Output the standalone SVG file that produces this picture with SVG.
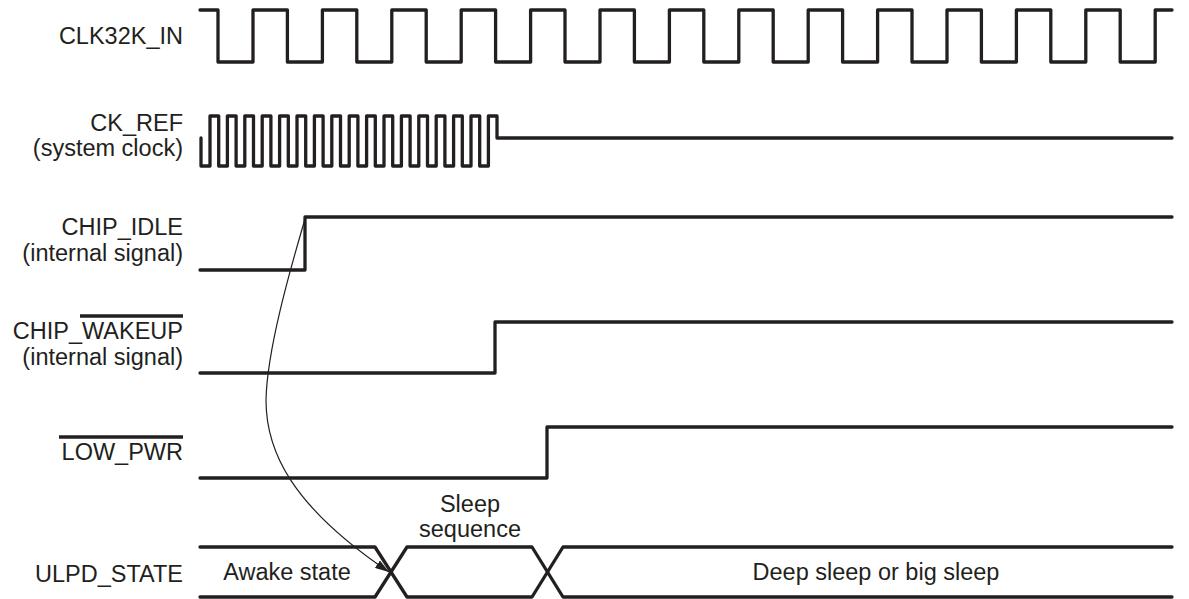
<svg xmlns="http://www.w3.org/2000/svg" width="1189" height="599" viewBox="0 0 1189 599">
<style>
.lbl{font-family:"Liberation Sans",Arial,sans-serif;font-size:23.5px;fill:#231f20;text-anchor:end}
.mid{font-family:"Liberation Sans",Arial,sans-serif;font-size:23.5px;fill:#231f20;text-anchor:middle}
.wave{fill:none;stroke:#231f20;stroke-width:3.3;stroke-linejoin:round;stroke-linecap:round}
.bar{stroke:#231f20;stroke-width:3.5}
.conn{fill:none;stroke:#231f20;stroke-width:1.2}
</style>
<defs>
<marker id="arr" viewBox="0 0 14 9" refX="14" refY="4.5" markerWidth="14" markerHeight="9" markerUnits="userSpaceOnUse" orient="auto">
<path d="M0,0 L14,4.5 L0,9 z" fill="#231f20"/>
</marker>
</defs>
<rect width="1189" height="599" fill="#ffffff"/>
<g id="clk32k">
<text class="lbl" x="183" y="44">CLK32K_IN</text>
<path class="wave" d="M200,10 H218 V62 H253 V10 H287.4 V62 H322.4 V10 H356.8 V62 H391.8 V10 H426.2 V62 H461.2 V10 H495.6 V62 H530.6 V10 H565 V62 H600 V10 H634.4 V62 H669.4 V10 H703.8 V62 H738.8 V10 H773.2 V62 H808.2 V10 H842.6 V62 H877.6 V10 H912 V62 H947 V10 H981.4 V62 H1016.4 V10 H1050.8 V62 H1085.8 V10 H1120.2 V62 H1155.2 V10 H1172"/>
</g>
<g id="ckref">
<text class="lbl" x="183" y="131">CK_REF</text>
<text class="lbl" x="183" y="156">(system clock)</text>
<path class="wave" d="M201,138 V166 H210 V116 H218.7 V166 H227.4 V116 H236.1 V166 H244.8 V116 H253.5 V166 H262.2 V116 H270.9 V166 H279.6 V116 H288.3 V166 H297 V116 H305.7 V166 H314.4 V116 H323.1 V166 H331.8 V116 H340.5 V166 H349.2 V116 H357.9 V166 H366.6 V116 H375.3 V166 H384 V116 H392.7 V166 H401.4 V116 H410.1 V166 H418.8 V116 H427.5 V166 H436.2 V116 H444.9 V166 H453.6 V116 H462.3 V166 H471 V116 H479.7 V166 H488.4 V116 H497 V138 H1172"/>
</g>
<g id="chip_idle">
<text class="lbl" x="183" y="235">CHIP_IDLE</text>
<text class="lbl" x="183" y="261">(internal signal)</text>
<path class="wave" d="M200,270 H305 V217 H1172"/>
</g>
<g id="chip_wakeup">
<text class="lbl" x="183" y="339">CHIP_WAKEUP</text>
<text class="lbl" x="183" y="365">(internal signal)</text>
<line class="bar" x1="80" y1="316" x2="183" y2="316"/>
<path class="wave" d="M200,373 H495 V322 H1172"/>
</g>
<g id="low_pwr">
<text class="lbl" x="183" y="460">LOW_PWR</text>
<line class="bar" x1="59" y1="437" x2="183" y2="437"/>
<path class="wave" d="M200,478 H547 V427 H1172"/>
</g>
<g id="ulpd_state">
<text class="lbl" x="183" y="582">ULPD_STATE</text>
<path class="wave" d="M200,547 H375 L407,597 H532 L563,547 H1172"/>
<path class="wave" d="M200,597 H375 L407,547 H532 L563,597 H1172"/>
<text class="mid" x="287" y="580">Awake state</text>
<text class="mid" x="470" y="512">Sleep</text>
<text class="mid" x="470" y="537">sequence</text>
<text class="mid" x="876" y="580">Deep sleep or big sleep</text>
</g>
<g id="connectors">
<path class="conn" d="M305,219 C290,270 267,350 266,400 C266,450 290,505 389,572" marker-end="url(#arr)"/>
</g>
</svg>
